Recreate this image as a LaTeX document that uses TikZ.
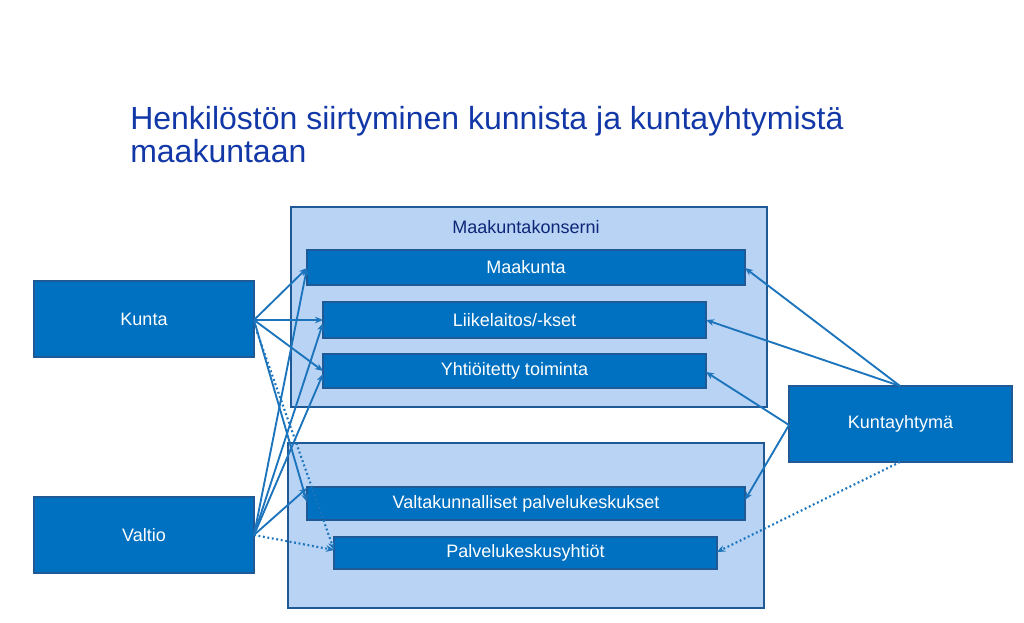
\documentclass[tikz,border=0pt]{standalone}
\usepackage{fontspec}
\setmainfont{Liberation Sans}
\usetikzlibrary{arrows.meta}
\definecolor{boxb}{HTML}{0070C0}
\definecolor{boxd}{HTML}{1F5A96}
\definecolor{grp}{HTML}{B9D3F5}
\definecolor{grpd}{HTML}{1F5A96}
\definecolor{ln}{HTML}{1C74BC}
\definecolor{ttl}{HTML}{1238A8}
\definecolor{org}{HTML}{E59A60}
\begin{document}
\begin{tikzpicture}[x=0.75pt,y=-0.75pt,
  grpbox/.style={draw=grpd,fill=grp,line width=1pt},
  bluebox/.style={draw=boxd,fill=boxb,line width=0.8pt,text=white,font=\fontsize{13.5}{16}\selectfont},
  arr/.style={draw=ln,line width=1.4pt,-{Stealth[length=6pt,width=5pt]}},
  darr/.style={arr,dotted,line width=1.6pt}]
\useasboundingbox (0,0) rectangle (1024,623);
\node[anchor=north west,text=ttl,font=\fontsize{24}{25}\selectfont,align=left,inner sep=0pt] (title) at (130,106) {Henkilöstön siirtyminen kunnista ja kuntayhtymistä\\maakuntaan};
\path[grpbox] (291,207) rectangle (767,407);
\path[grpbox] (288,443) rectangle (764,608);
\node[text=ttl!70!black,font=\fontsize{13.5}{16}\selectfont] (mk) at (526,227) {Maakuntakonserni};
\path[bluebox] (307,250) rectangle node (maak) {Maakunta} (745,285);
\path[bluebox] (323,302) rectangle node (liik) {Liikelaitos/-kset} (706,338);
\path[bluebox] (323,354) rectangle node (yht) {Yhtiöitetty toiminta} (706,388);
\path[bluebox] (307,487) rectangle node (valt) {Valtakunnalliset palvelukeskukset} (745,520);
\path[bluebox] (334,537) rectangle node (palv) {Palvelukeskusyhtiöt} (717,569);
\path[bluebox] (34,281) rectangle node (kunta) {Kunta} (254,357);
\path[bluebox] (34,497) rectangle node (valtio) {Valtio} (254,573);
\path[bluebox] (789,386) rectangle node (ky) {Kuntayhtymä} (1012,462);
\coordinate (kr) at (254,320);
\coordinate (vr) at (254,535);
\coordinate (kyt) at (900,386);
\coordinate (kyl) at (789,425);
\coordinate (kyb) at (900,462);
\draw[arr] (kr) -- (307,268);
\draw[arr] (kr) -- (323,320);
\draw[arr] (kr) -- (323,371);
\draw[arr] (kr) -- (307,502);
\draw[darr] (257,332) -- (334,550);
\draw[arr] (vr) -- (307,268);
\draw[arr] (vr) -- (323,323);
\draw[arr] (vr) -- (323,374);
\draw[arr] (vr) -- (307,488);
\draw[darr] (vr) -- (334,550);
\draw[arr] (kyt) -- (745,268);
\draw[arr] (kyt) -- (706,320);
\draw[arr] (kyl) -- (706,372);
\draw[arr] (kyl) -- (745,500);
\draw[darr] (kyb) -- (717,552);
\foreach \r in {20,30,40,50,60}
  \draw[org,dashed,line width=0.5pt] (1050,640) ++(180:\r) arc (180:100:\r);
\end{tikzpicture}
\end{document}
